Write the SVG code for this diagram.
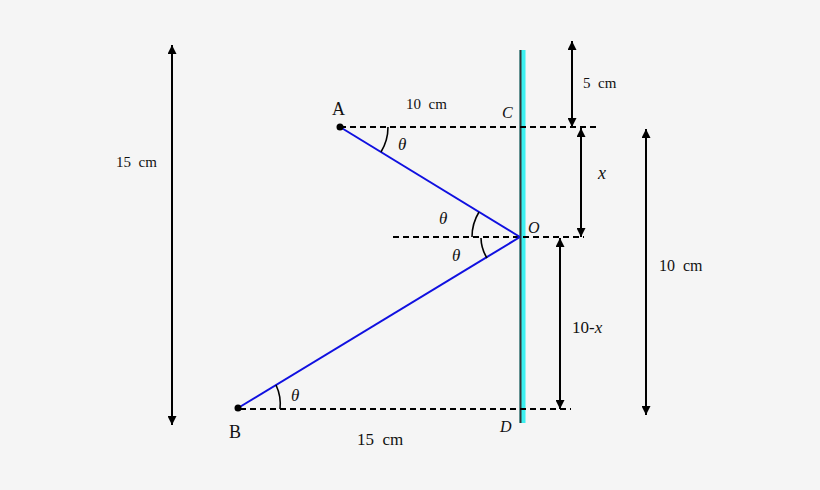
<svg xmlns="http://www.w3.org/2000/svg" width="820" height="490" viewBox="0 0 820 490">
<defs>
<marker id="ah" viewBox="0 0 10 10" refX="10" refY="5" markerWidth="9" markerHeight="9" markerUnits="userSpaceOnUse" orient="auto-start-reverse">
<path d="M0,0 L10,5 L0,10 z" fill="#000"/>
</marker>
<style>
.t{font-family:"Liberation Serif",serif;fill:#111;white-space:pre}
.i{font-style:italic}
.dash{stroke:#000;stroke-width:2;stroke-dasharray:6,4;fill:none}
.ray{stroke:#1010e0;stroke-width:2;fill:none}
.dim{stroke:#000;stroke-width:2;fill:none;marker-start:url(#ah);marker-end:url(#ah)}
.arc{stroke:#000;stroke-width:1.6;fill:none}
</style>
</defs>
<rect width="820" height="490" fill="#f5f5f5"/>
<g id="mirror">
<rect x="519.5" y="50" width="6" height="373" fill="#3cf0f0"/>
<line x1="520.5" y1="50" x2="520.5" y2="423" stroke="#333" stroke-width="2"/>
</g>
<g id="connectors">
<line class="dash" x1="340" y1="127" x2="599" y2="127"/>
<line class="dash" x1="393" y1="237" x2="584" y2="237"/>
<line class="dash" x1="240" y1="409" x2="571" y2="409"/>
<line class="ray" x1="340" y1="127" x2="520" y2="237"/>
<line class="ray" x1="520" y1="237" x2="238" y2="408"/>
<path class="arc" d="M388,127 A48,48 0 0 1 381,152"/>
<path class="arc" d="M479,212 A48,48 0 0 0 472,237"/>
<path class="arc" d="M481,238 A39,39 0 0 0 487,258"/>
<path class="arc" d="M276,385 A45,45 0 0 1 280,409"/>
<line class="dim" x1="572" y1="41" x2="572" y2="127"/>
<line class="dim" x1="581" y1="128" x2="581" y2="237"/>
<line class="dim" x1="560" y1="238" x2="560" y2="409"/>
<line class="dim" x1="646" y1="129" x2="646" y2="415"/>
<line class="dim" x1="172" y1="45" x2="172" y2="425"/>
</g>
<g id="A">
<circle cx="340" cy="127" r="3.5" fill="#000"/>
<text class="t" x="332" y="115" font-size="18">A</text>
</g>
<g id="B">
<circle cx="238" cy="408" r="3.5" fill="#000"/>
<text class="t" x="229" y="438" font-size="18">B</text>
</g>
<g id="O"><text class="t i" x="528" y="233" font-size="16">O</text></g>
<g id="C"><text class="t i" x="502" y="118" font-size="16">C</text></g>
<g id="D"><text class="t i" x="500" y="432" font-size="16">D</text></g>
<g id="labels">
<text class="t" x="406" y="109" font-size="15" xml:space="preserve">10  cm</text>
<text class="t i" x="398" y="150" font-size="17">θ</text>
<text class="t i" x="439" y="224" font-size="17">θ</text>
<text class="t i" x="452" y="261" font-size="17">θ</text>
<text class="t i" x="291" y="401" font-size="17">θ</text>
<text class="t" x="357" y="445" font-size="17" xml:space="preserve">15  cm</text>
<text class="t" x="583" y="88" font-size="15" xml:space="preserve">5  cm</text>
<text class="t i" x="598" y="179" font-size="18">x</text>
<text class="t" x="572" y="333" font-size="17">10-<tspan font-style="italic">x</tspan></text>
<text class="t" x="659" y="271" font-size="16" xml:space="preserve">10  cm</text>
<text class="t" x="116" y="167" font-size="15" xml:space="preserve">15  cm</text>
</g>
</svg>
